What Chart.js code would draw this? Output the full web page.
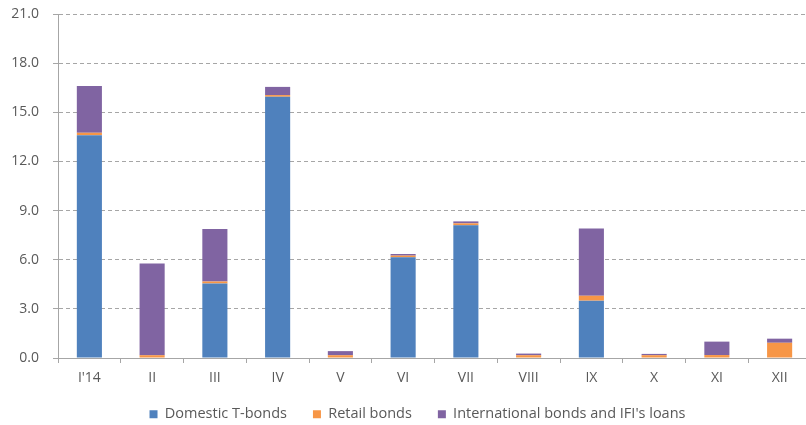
<!DOCTYPE html>
<html>
<head>
<meta charset="utf-8">
<script src="https://cdn.jsdelivr.net/npm/chart.js@4.4.1/dist/chart.umd.min.js"></script>
<style>
  html, body { margin: 0; padding: 0; background: #fff; overflow: hidden; }
  #wrap { position: relative; width: 812px; height: 425px; }
</style>
</head>
<body>
<div id="wrap"><canvas id="issuance"></canvas></div>
<script>
// monthly borrowing, 2014 (bn)
const months = ["I'14", 'II', 'III', 'IV', 'V', 'VI', 'VII', 'VIII', 'IX', 'X', 'XI', 'XII'];
const domesticTBonds = [13.6, 0, 4.55, 15.95, 0, 6.15, 8.1, 0, 3.5, 0, 0, 0];
const retailBonds = [0.15, 0.17, 0.12, 0.1, 0.17, 0.1, 0.12, 0.17, 0.3, 0.17, 0.18, 0.93];
const intlBondsAndLoans = [2.85, 5.6, 3.2, 0.5, 0.25, 0.1, 0.12, 0.1, 4.1, 0.08, 0.82, 0.25];

const textColor = '#595959';
const lineColor = '#a6a6a6';
const tickFont = { family: "'Open Sans', sans-serif", size: 14 };
const legendFont = { family: "'Open Sans', sans-serif", size: 14.5 };

function barSet(label, data, color) {
    return {
        label: label,
        data: data,
        backgroundColor: color,
        borderWidth: 0,
        categoryPercentage: 1,
        barPercentage: 0.4
    };
}

// pull the legend row up closer to the axis labels
const legendNudge = {
    id: 'legendNudge',
    afterLayout(chart) {
        const lg = chart.legend;
        if (!lg) return;
        lg.top -= 7;
        lg.left += 12;
        lg.right += 12;
    }
};

new Chart(document.getElementById('issuance'), {
    type: 'bar',
    data: {
        labels: months,
        datasets: [
            barSet('Domestic T-bonds', domesticTBonds, '#4f81bd'),
            barSet('Retail bonds', retailBonds, '#f79646'),
            barSet("International bonds and IFI's loans", intlBondsAndLoans, '#8064a2')
        ]
    },
    options: {
        responsive: true,
        maintainAspectRatio: false,
        animation: false,
        layout: { padding: { top: 14, right: 1, bottom: 0, left: 0 } },
        scales: {
            x: {
                stacked: true,
                grid: { drawOnChartArea: false, color: lineColor, tickLength: 5 },
                border: { color: lineColor },
                ticks: { color: textColor, font: tickFont, padding: 7 },
                afterFit: scale => { scale.height = 30; }
            },
            y: {
                stacked: true,
                min: 0,
                max: 21,
                ticks: {
                    stepSize: 3,
                    color: textColor,
                    font: tickFont,
                    padding: 14,
                    callback: v => v.toFixed(1)
                },
                grid: { color: lineColor, tickLength: 5 },
                border: { color: lineColor, dash: [4, 3] },
                afterFit: scale => {
                    scale.width = 58;
                    scale.paddingTop = 0;
                    scale.paddingBottom = 0;
                }
            }
        },
        plugins: {
            tooltip: { enabled: false },
            legend: {
                position: 'bottom',
                maxHeight: 37,
                labels: {
                    color: textColor,
                    font: legendFont,
                    boxWidth: 8,
                    boxHeight: 8,
                    padding: 26
                }
            }
        }
    },
    plugins: [legendNudge]
});
</script>
</body>
</html>
